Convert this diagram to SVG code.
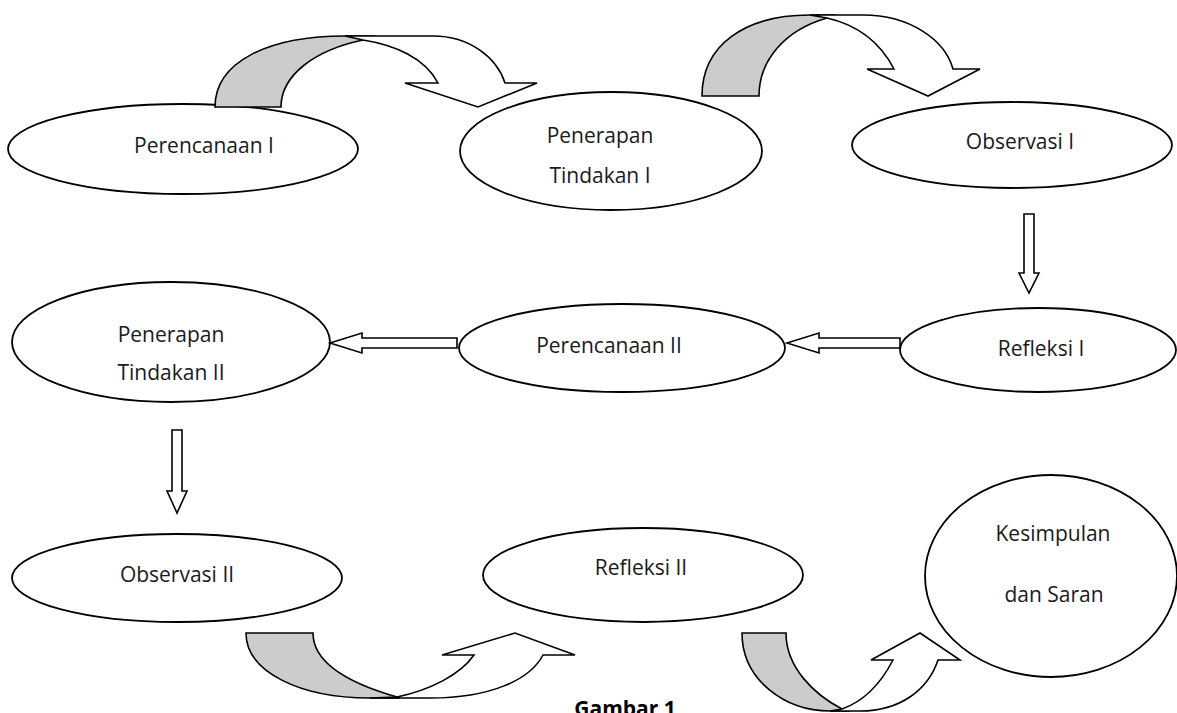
<svg xmlns="http://www.w3.org/2000/svg" width="1177" height="713" viewBox="0 0 1177 713">
<style>
.n{fill:#fff;stroke:#000;stroke-width:1.8}
.t{font-family:"Open Sans","Noto Sans",sans-serif;font-size:21px;fill:#1a1a1a;text-anchor:middle}
.a{fill:#fff;stroke:#000;stroke-width:1.6;stroke-linejoin:miter}
.s{fill:#cccccc;stroke:#000;stroke-width:1.6}
.b{font-family:"Open Sans","Noto Sans",sans-serif;font-size:21px;font-weight:bold;fill:#000;text-anchor:middle}
</style>
<rect width="1177" height="713" fill="#fff"/>
<g id="n1"><ellipse class="n" cx="183" cy="149" rx="175" ry="45"/><text class="t" x="204" y="153">Perencanaan I</text></g>
<g id="n2"><ellipse class="n" cx="611" cy="151" rx="151" ry="59"/><text class="t" x="600" y="143">Penerapan</text><text class="t" x="600" y="183">Tindakan I</text></g>
<g id="n3"><ellipse class="n" cx="1012" cy="145" rx="160" ry="43"/><text class="t" x="1020" y="149">Observasi I</text></g>
<g id="n4"><ellipse class="n" cx="1038" cy="350" rx="138" ry="42"/><text class="t" x="1041" y="356">Refleksi I</text></g>
<g id="n5"><ellipse class="n" cx="622" cy="348" rx="163" ry="44"/><text class="t" x="609" y="353">Perencanaan II</text></g>
<g id="n6"><ellipse class="n" cx="171" cy="342" rx="159" ry="60"/><text class="t" x="171" y="342">Penerapan</text><text class="t" x="171" y="380">Tindakan II</text></g>
<g id="n7"><ellipse class="n" cx="177" cy="578" rx="165" ry="44"/><text class="t" x="177" y="582">Observasi II</text></g>
<g id="n8"><ellipse class="n" cx="643" cy="575" rx="160" ry="47"/><text class="t" x="641" y="575">Refleksi II</text></g>
<g id="n9"><ellipse class="n" cx="1051" cy="576" rx="126" ry="101"/><text class="t" x="1053" y="541">Kesimpulan</text><text class="t" x="1054" y="602">dan Saran</text></g>
<g id="connectors">
<path class="s" d="M215,107 C215,62 268,36 345,36 L375,36 L363,40 C315,50 281,75 281,107 Z"/>
<path class="a" d="M345,36 L433,36 C470,36 497,58 505,83 L537,83 L478,107 L405,83 L438,83 C425,58 395,45 363,40 Z"/>
<path class="s" d="M702,96 C702,45 745,15 810,15 L835,15 L827,18 C785,30 759,60 759,96 Z"/>
<path class="a" d="M810,15 L863,15 C910,15 945,40 953,69 L980,69 L928,96 L867,69 L894,69 C880,42 858,25 827,18 Z"/>
<path class="s" d="M246,633 C246,672 300,698 370,698 L400,698 L397,697 C355,685 313,665 313,633 Z"/>
<path class="a" d="M370,698 L430,698 C490,698 530,680 543,655 L575,655 L515,633 L442,655 L474,655 C460,675 430,690 397,697 Z"/>
<path class="s" d="M742,633 C742,680 785,711 830,711 L850,711 L842,709 C815,695 786,668 786,633 Z"/>
<path class="a" d="M830,711 L860,711 C900,711 928,690 938,660 L960,660 L920,633 L871,660 L893,660 C880,685 862,702 842,709 Z"/>
<path class="a" d="M1024,214 L1034,214 L1034,273 L1039,273 L1029,293 L1019,273 L1024,273 Z"/>
<path class="a" d="M900,338 L819,338 L819,333 L787,343 L819,353 L819,348 L900,348 Z"/>
<path class="a" d="M457,338 L362,338 L362,333 L330,343 L362,353 L362,348 L457,348 Z"/>
<path class="a" d="M172,430 L182,430 L182,491 L187,491 L177,513 L167,491 L172,491 Z"/>
</g>
<text class="b" x="625" y="716">Gambar 1</text>
</svg>
